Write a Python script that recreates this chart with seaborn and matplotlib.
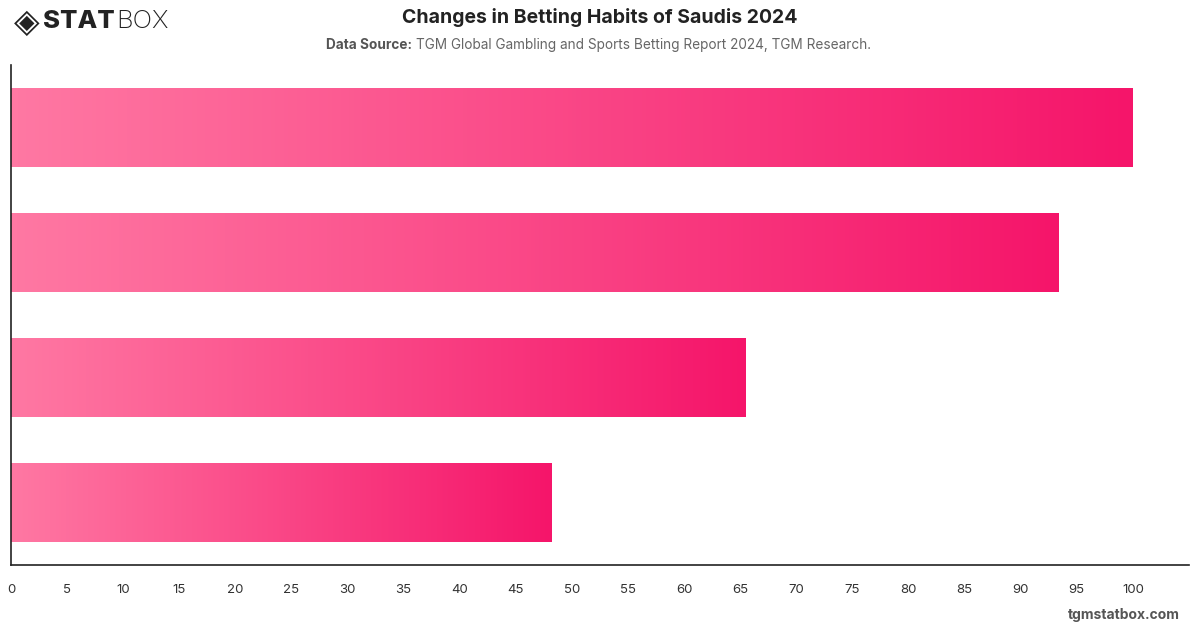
import numpy as np
import pandas as pd
import matplotlib
matplotlib.use('Agg')
import matplotlib.pyplot as plt
import seaborn as sns
from matplotlib.colors import LinearSegmentedColormap

# Data (the categories have no visible labels)
categories = ['Category 1', 'Category 2', 'Category 3', 'Category 4']
values = [100, 93.4, 65.5, 48.2]
x_ticks = list(range(0, 105, 5))

df = pd.DataFrame({'category': categories, 'value': values})

sns.set_theme(style='white')
plt.rcParams['font.family'] = ['Inter', 'DejaVu Sans']

fig = plt.figure(figsize=(12, 6.28), dpi=100)
ax = fig.add_axes([0.0092, 0.1003, 0.9816, 0.7962])

sns.barplot(data=df, x='value', y='category', orient='h', width=0.625,
            color='#f5166b', ax=ax)

# Gradient fill for each bar
cmap = LinearSegmentedColormap.from_list('pinkgrad', ['#ff78a3', '#f5156a'])
grad = np.linspace(0, 1, 256).reshape(1, -1)
for patch in ax.patches:
    x0, y0 = patch.get_x(), patch.get_y()
    w, h = patch.get_width(), patch.get_height()
    patch.set_facecolor('none')
    patch.set_edgecolor('none')
    im = ax.imshow(grad, cmap=cmap, aspect='auto', extent=[x0, x0 + w, y0 + h, y0],
                   zorder=2, interpolation='bicubic')
    im.set_clip_path(patch)

ax.set_xlim(0, 105)
ax.set_ylim(3.5, -0.5)
ax.set_xticks(x_ticks)
ax.set_xticklabels([str(t) for t in x_ticks], fontsize=9.5, color='#333333')
ax.tick_params(axis='x', length=0, pad=14)
ax.set_yticks([])
ax.set_xlabel('')
ax.set_ylabel('')
for side in ['top', 'right']:
    ax.spines[side].set_visible(False)
for side in ['left', 'bottom']:
    ax.spines[side].set_color('#222222')
    ax.spines[side].set_linewidth(1.2)

# Titles
fig.text(0.5, 0.972, 'Changes in Betting Habits of Saudis 2024', ha='center', va='center',
         fontsize=14, fontweight='bold', color='#222222')
t1 = fig.text(0.272, 0.929, 'Data Source:', ha='left', va='center',
              fontsize=9.8, fontweight='bold', color='#555555')
fig.canvas.draw()
r = fig.canvas.get_renderer()
bb = t1.get_window_extent(r)
fig.text((bb.x1 + 4) / fig.bbox.width, 0.929,
         'TGM Global Gambling and Sports Betting Report 2024, TGM Research.',
         ha='left', va='center', fontsize=9.8, color='#666666')

# Logo
fig.text(0.012, 0.965, '\u25c8', ha='left', va='center', fontsize=24,
         color='#222222', family='DejaVu Sans')
s1 = fig.text(0.036, 0.965, 'STAT', ha='left', va='center', fontsize=18.5,
              fontweight='heavy', color='#222222')
fig.canvas.draw()
bb = s1.get_window_extent(r)
fig.text((bb.x1 + 1) / fig.bbox.width, 0.965, 'BOX', ha='left', va='center',
         fontsize=18.5, fontweight='light', color='#222222')

# Watermark
fig.text(0.983, 0.021, 'tgmstatbox.com', ha='right', va='center', fontsize=10,
         fontweight='bold', color='#555555')

fig.savefig('out.png', dpi=100)
